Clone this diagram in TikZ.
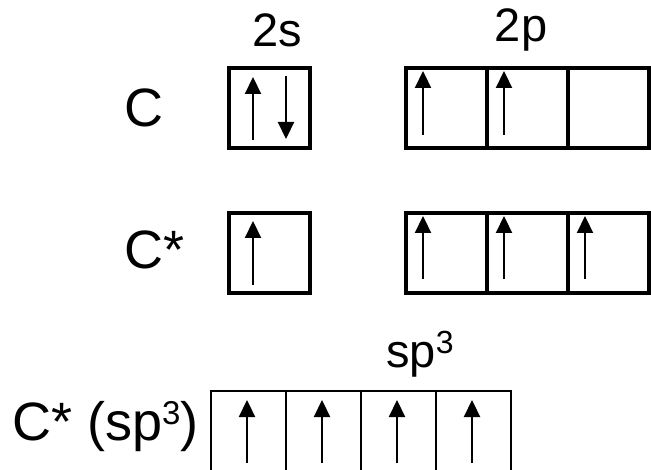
\documentclass[tikz,border=0pt]{standalone}
\usepackage{fontspec}
\setmainfont{Liberation Sans}
\usetikzlibrary{arrows.meta,calc}
% raised superscript digit: #1 = size, #2 = raise
\newcommand{\supdigit}[3]{\raisebox{#2}{\fontsize{#1}{#1}\selectfont #3}}
\begin{document}
\begin{tikzpicture}[x=1bp,y=-1bp,
  cell/.style={draw, line width=3.4bp, minimum width=81bp, minimum height=80bp,
    inner sep=0pt, outer sep=0pt, anchor=north west},
  hcell/.style={draw, line width=2.6bp, minimum width=75bp, minimum height=80bp,
    inner sep=0pt, outer sep=0pt, anchor=north west},
  spin/.style={line width=2.2bp, -{Triangle[width=16bp,length=17bp]}},
  rowlbl/.style={inner sep=0pt, anchor=base west, font=\fontsize{54bp}{60bp}\selectfont},
  orblbl/.style={inner sep=0pt, anchor=base, font=\fontsize{47bp}{50bp}\selectfont}]
\useasboundingbox (0,0) rectangle (651,470);

% ground state C
\node[cell] (s1) at (229,68) {};
\node[cell] (p1a) at (406,68) {};
\node[cell] (p1b) at (487,68) {};
\node[cell] (p1c) at (568,68) {};

% excited state C*
\node[cell] (s2) at (229,213) {};
\node[cell] (p2a) at (406,213) {};
\node[cell] (p2b) at (487,213) {};
\node[cell] (p2c) at (568,213) {};

% sp3 hybrid orbitals
\node[hcell] (h1) at (211,391) {};
\node[hcell] (h2) at (286,391) {};
\node[hcell] (h3) at (361,391) {};
\node[hcell] (h4) at (436,391) {};

% electron spins
\draw[spin] ($(s1.south west)+(24,-8)$) -- ($(s1.north west)+(24,9)$);
\draw[spin] ($(s1.north west)+(57,8)$) -- ($(s1.south west)+(57,-9)$);
\foreach \c in {p1a,p1b}
  \draw[spin] ($(\c.south west)+(17,-13)$) -- ($(\c.north west)+(17,3)$);

\draw[spin] ($(s2.south west)+(24,-8)$) -- ($(s2.north west)+(24,8)$);
\foreach \c in {p2a,p2b,p2c}
  \draw[spin] ($(\c.south west)+(17,-14)$) -- ($(\c.north west)+(17,3)$);

\foreach \c in {h1,h2,h3,h4}
  \draw[spin] ($(\c.north west)+(36,72)$) -- ($(\c.north west)+(36,9)$);

% labels
\node[orblbl] (l2s) at (277,47) {2s};
\node[orblbl] (l2p) at (521,42) {2p};
\node[orblbl, anchor=base west] (lsp) at (386,367) {sp\supdigit{32bp}{14bp}{3}};
\node[rowlbl] (lc) at (124,127) {C};
\node[rowlbl] (lcs) at (124,269) {C*};
\node[rowlbl] (lch) at (12,440) {C* (sp\supdigit{33bp}{16bp}{3})};
\end{tikzpicture}
\end{document}
